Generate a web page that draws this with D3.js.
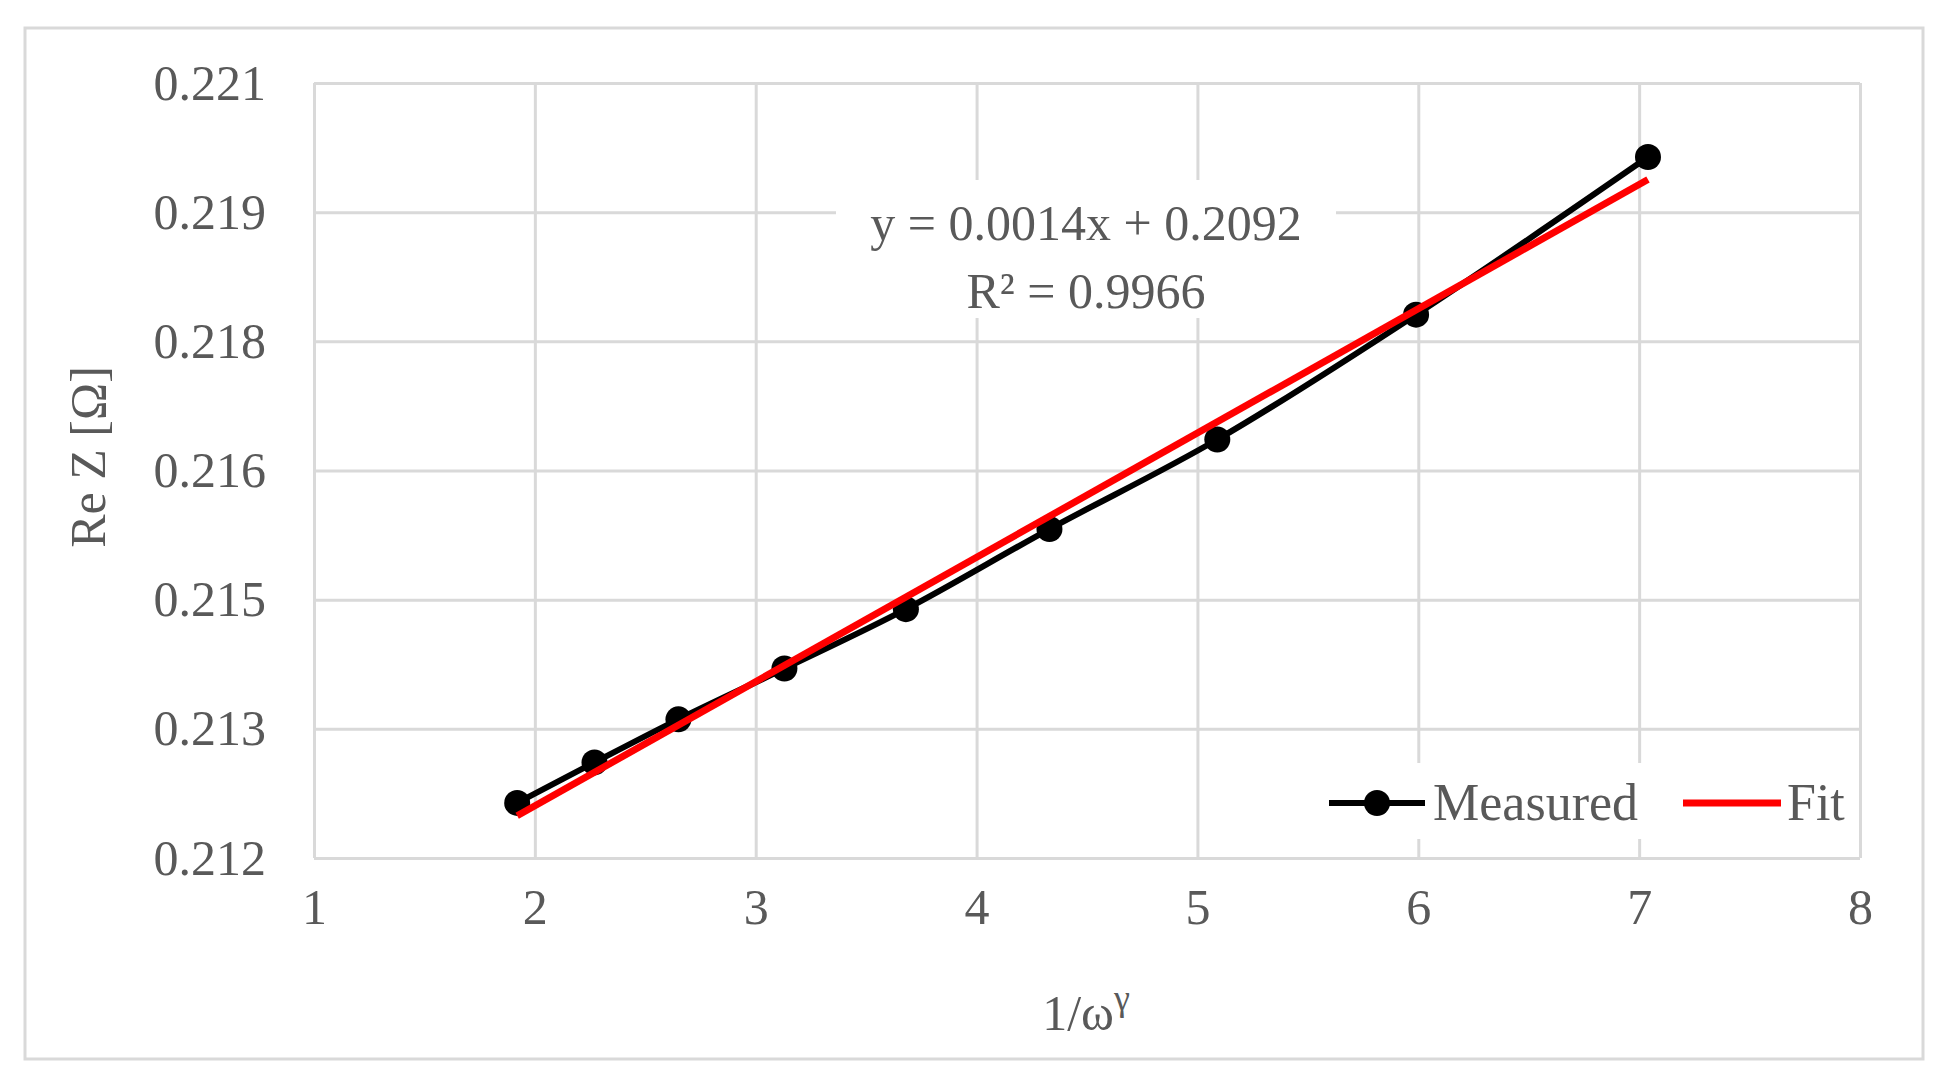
<!DOCTYPE html>
<html>
<head>
<meta charset="utf-8">
<script src="https://cdn.jsdelivr.net/npm/d3@7"></script>
<style>
  body { margin: 0; background: #fff; }
  text { font-family: "Liberation Serif", "DejaVu Serif", serif; fill: #595959; }
</style>
</head>
<body>
<div class="chart"></div>
<script>
const xValues = [1.92, 2.27, 2.65, 3.13, 3.68, 4.33, 5.09, 5.99, 7.04];
const measured = [0.21264, 0.21311, 0.21361, 0.21420, 0.21489, 0.21582, 0.21686, 0.21831, 0.22014];
const fitX = [1.92, 7.04];
const fitY = [0.21249, 0.21988];
const xTicks = [1, 2, 3, 4, 5, 6, 7, 8];
const yTicks = [0.212, 0.2135, 0.215, 0.2165, 0.218, 0.2195, 0.221];
const yTickLabels = ['0.212', '0.213', '0.215', '0.216', '0.218', '0.219', '0.221'];

const W = 1954, H = 1079;
const margin = { top: 83, right: 94, bottom: 221, left: 314 };
const width = W - margin.left - margin.right;
const height = H - margin.top - margin.bottom;

const root = d3.select('.chart').append('svg')
  .attr('width', W).attr('height', H);

root.append('rect')
  .attr('x', 25).attr('y', 28).attr('width', 1898).attr('height', 1031)
  .attr('fill', 'none').attr('stroke', '#d9d9d9').attr('stroke-width', 3);

const svg = root.append('g')
  .attr('transform', `translate(${margin.left}, ${margin.top})`);

const xScale = d3.scaleLinear().domain([1, 8]).range([0, width]);
const yScale = d3.scaleLinear().domain([0.212, 0.221]).range([height, 0]);

// gridlines
svg.append('g')
  .call(d3.axisLeft(yScale).tickValues(yTicks).tickSize(-width).tickFormat(''))
  .call(g => g.select('.domain').remove())
  .selectAll('line').attr('stroke', '#d9d9d9').attr('stroke-width', 3);
svg.append('g')
  .attr('transform', `translate(0, ${height})`)
  .call(d3.axisBottom(xScale).tickValues(xTicks).tickSize(-height).tickFormat(''))
  .call(g => g.select('.domain').remove())
  .selectAll('line').attr('stroke', '#d9d9d9').attr('stroke-width', 3);

// tick labels
const yAxis = svg.append('g')
  .call(d3.axisLeft(yScale).tickValues(yTicks).tickSize(0).tickPadding(48)
    .tickFormat((d, i) => yTickLabels[i]));
yAxis.select('.domain').remove();
yAxis.selectAll('text').style('font-size', '50px').attr('fill', '#595959')
  .style('font-family', '"Liberation Serif", serif');

const xAxis = svg.append('g')
  .attr('transform', `translate(0, ${height})`)
  .call(d3.axisBottom(xScale).tickValues(xTicks).tickSize(0).tickPadding(30).tickFormat(d3.format('d')));
xAxis.select('.domain').remove();
xAxis.selectAll('text').style('font-size', '50px').attr('fill', '#595959')
  .style('font-family', '"Liberation Serif", serif');

// measured line
const pts = xValues.map((x, i) => [x, measured[i]]);
svg.append('path')
  .datum(pts)
  .attr('fill', 'none').attr('stroke', '#000').attr('stroke-width', 6)
  .attr('d', d3.line().x(d => xScale(d[0])).y(d => yScale(d[1])).curve(d3.curveCatmullRom));
svg.selectAll('circle.m')
  .data(pts).enter().append('circle')
  .attr('cx', d => xScale(d[0])).attr('cy', d => yScale(d[1]))
  .attr('r', 13).attr('fill', '#000');

// fit line
svg.append('path')
  .datum(fitX.map((x, i) => [x, fitY[i]]))
  .attr('fill', 'none').attr('stroke', '#ff0000').attr('stroke-width', 7)
  .attr('d', d3.line().x(d => xScale(d[0])).y(d => yScale(d[1])));

// equation label
const eq = root.append('g').attr('transform', 'translate(1086, 0)');
eq.append('rect').attr('x', -250).attr('y', 180).attr('width', 500).attr('height', 138).attr('fill', '#fff');
eq.append('text').attr('y', 240).attr('text-anchor', 'middle').style('font-size', '50px')
  .text('y = 0.0014x  + 0.2092');
eq.append('text').attr('y', 308).attr('text-anchor', 'middle').style('font-size', '50px')
  .text('R² = 0.9966');

// legend
const lg = root.append('g').attr('transform', 'translate(1325, 803)');
lg.append('rect').attr('x', 0).attr('y', -40).attr('width', 532).attr('height', 76).attr('fill', '#fff');
lg.append('line').attr('x1', 4).attr('x2', 100).attr('y1', 0).attr('y2', 0).attr('stroke', '#000').attr('stroke-width', 6);
lg.append('circle').attr('cx', 52).attr('cy', 0).attr('r', 13).attr('fill', '#000');
lg.append('text').attr('x', 108).attr('y', 17).style('font-size', '52px').text('Measured');
lg.append('line').attr('x1', 358).attr('x2', 456).attr('y1', 0).attr('y2', 0).attr('stroke', '#ff0000').attr('stroke-width', 7);
lg.append('text').attr('x', 462).attr('y', 17).style('font-size', '52px').text('Fit');

// axis titles
root.append('text').attr('x', 1086).attr('y', 1030).attr('text-anchor', 'middle').style('font-size', '50px')
  .html('1/ω<tspan dy="-20" font-size="36px">γ</tspan>');
root.append('text').attr('transform', 'translate(105, 457) rotate(-90)').attr('text-anchor', 'middle')
  .style('font-size', '50px').text('Re Z [Ω]');
</script>
</body>
</html>
